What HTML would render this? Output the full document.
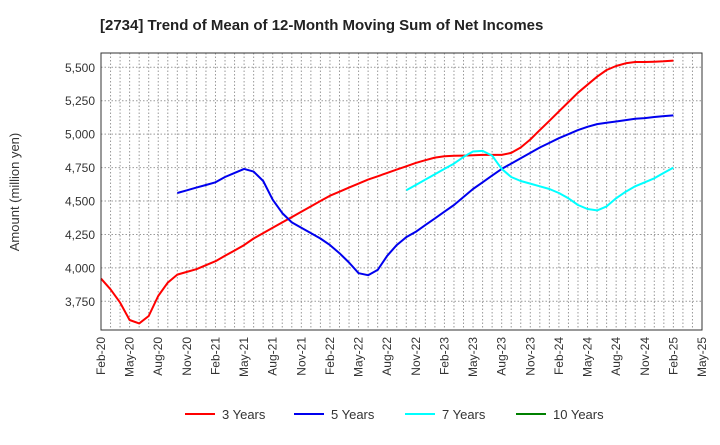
<!DOCTYPE html>
<html><head><meta charset="utf-8"><style>
body{margin:0;background:#fff;font-family:"Liberation Sans",Arial,sans-serif;}
</style></head><body>
<svg id="chart" width="720" height="440" xmlns="http://www.w3.org/2000/svg" font-family="Liberation Sans, Arial, sans-serif">
<text x="100" y="30" font-size="15" font-weight="bold" fill="#222">[2734]  Trend of Mean of 12-Month Moving Sum of Net Incomes</text>
<text transform="translate(19,192) rotate(-90)" text-anchor="middle" font-size="13" fill="#333">Amount (million yen)</text>
<g id="grid"></g><g id="axes"></g><g id="series"></g>
<rect x="101" y="53" width="601" height="277" fill="none" stroke="#333" stroke-width="1"/>
<g id="legend"></g>
</svg>
<script>
const yTicks=[3750,4000,4250,4500,4750,5000,5250,5500];
const xLabels=["Feb-20","May-20","Aug-20","Nov-20","Feb-21","May-21","Aug-21","Nov-21","Feb-22","May-22","Aug-22","Nov-22","Feb-23","May-23","Aug-23","Nov-23","Feb-24","May-24","Aug-24","Nov-24","Feb-25","May-25"];
const seriesNames=["3 Years","5 Years","7 Years","10 Years"];
const y3=[3920,3840,3740,3610,3585,3640,3790,3890,3950,3970,3990,4020,4050,4090,4130,4170,4220,4260,4300,4340,4380,4420,4460,4500,4540,4570,4600,4630,4660,4685,4710,4735,4760,4785,4805,4825,4835,4838,4840,4843,4845,4845,4845,4860,4900,4960,5030,5100,5170,5240,5310,5370,5430,5480,5510,5530,5540,5540,5542,5545,5550];
const y5=[null,null,null,null,null,null,null,null,4560,4580,4600,4620,4640,4680,4710,4740,4720,4650,4510,4410,4340,4300,4260,4220,4170,4110,4040,3960,3945,3985,4090,4170,4230,4270,4320,4370,4420,4470,4530,4590,4640,4690,4740,4780,4820,4860,4900,4935,4970,5000,5030,5055,5075,5085,5095,5105,5115,5120,5128,5135,5140];
const y7=[null,null,null,null,null,null,null,null,null,null,null,null,null,null,null,null,null,null,null,null,null,null,null,null,null,null,null,null,null,null,null,null,4580,4620,4660,4700,4740,4780,4830,4870,4875,4840,4740,4680,4650,4630,4610,4590,4560,4520,4470,4440,4430,4460,4520,4570,4610,4640,4670,4710,4750];
const y10=[];
const colors=["#ff0000","#0000ee","#00ffff","#008000"];
const NS="http://www.w3.org/2000/svg";
const L=101,R=702,T=53,B=330,months=63;
const xs=m=>L+(R-L)*m/months;
const ys=v=>67.3+(5500-v)*(33.43/250);
function mk(tag,attrs,parent){const e=document.createElementNS(NS,tag);for(const k in attrs)e.setAttribute(k,attrs[k]);parent.appendChild(e);return e;}
const grid=document.getElementById('grid'),axes=document.getElementById('axes'),ser=document.getElementById('series'),leg=document.getElementById('legend');
for(let m=1;m<months;m++){const l=mk('line',{x1:xs(m),x2:xs(m),y1:T,y2:B,stroke:'#999','stroke-dasharray':'1.5,2','stroke-width':1},grid);

}
yTicks.forEach(v=>{const l=mk('line',{x1:L,x2:R,y1:ys(v),y2:ys(v),stroke:'#999','stroke-dasharray':'1.5,2','stroke-width':1},grid);


const t=mk('text',{x:L-6,y:ys(v)+4.5,'text-anchor':'end','font-size':12,fill:'#333'},axes);t.textContent=v.toLocaleString('en-US');

});
xLabels.forEach((s,i)=>{const x=xs(i*3);const t=mk('text',{transform:`translate(${x+4},337) rotate(-90)`,'text-anchor':'end','font-size':12,fill:'#333'},axes);t.textContent=s;

});
[y3,y5,y7,y10].forEach((arr,si)=>{let d='';let pen=false;arr.forEach((v,i)=>{if(v==null){pen=false;return;}d+=(pen?'L':'M')+xs(i).toFixed(1)+','+ys(v).toFixed(1);pen=true;});
if(!d)return;const p=mk('path',{d:d,fill:'none',stroke:colors[si],'stroke-width':2,'stroke-linejoin':'round'},ser);

});
const lx=[185,294,405,516];
seriesNames.forEach((s,i)=>{const g=mk('g',{},leg);


mk('line',{x1:lx[i],x2:lx[i]+30,y1:414,y2:414,stroke:colors[i],'stroke-width':2},g);
const t=mk('text',{x:lx[i]+37,y:419,'font-size':13,fill:'#333'},g);t.textContent=s;});
</script>
</body></html>
